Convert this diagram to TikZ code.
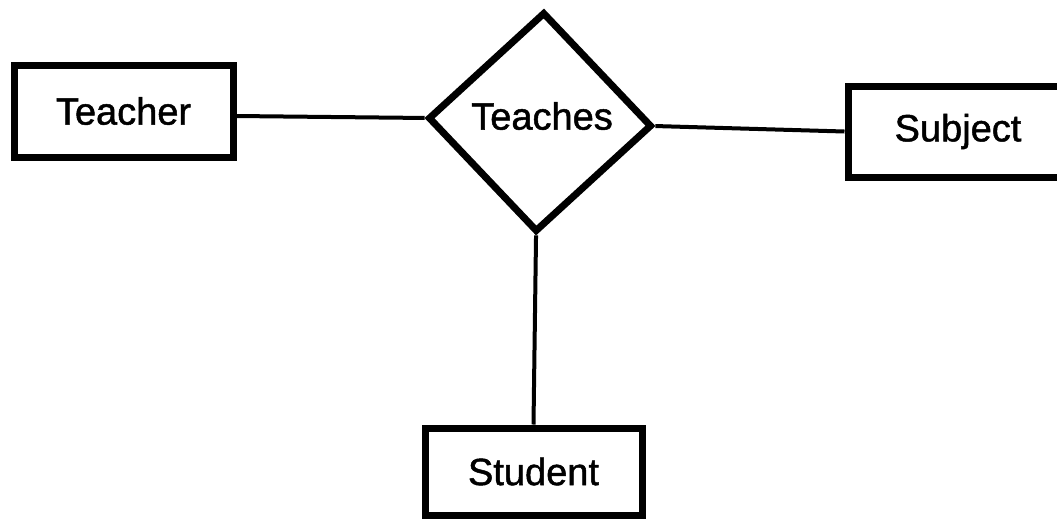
\documentclass[tikz,border=0pt]{standalone}
\usepackage{fontspec}
\setmainfont{Liberation Sans}
\newfontfamily\erfont[FakeBold=1.3]{Liberation Sans}
\usetikzlibrary{shapes.geometric}
\begin{document}
\begin{tikzpicture}[x=0.5pt,y=-0.5pt,
  entity/.style={draw=black,line width=3.5pt,rectangle,inner sep=0pt,
    font=\erfont\fontsize{19}{22}\selectfont},
  relation/.style={draw=black,line width=3.5pt,diamond,inner sep=0pt,
    minimum width=112pt,minimum height=110pt,rotate=-2},
  label/.style={font=\erfont\fontsize{19}{22}\selectfont,inner sep=0pt},
  link/.style={draw=black,line width=2pt}]
\useasboundingbox (0,0) rectangle (1057,527);
\clip (0,0) rectangle (1057,527);
\fill[white] (0,0) rectangle (1057,527);

% entities
\node[entity,minimum width=109.5pt,minimum height=46pt] (teacher) at (123.5,111) {Teacher};
\node[entity,minimum width=110pt,minimum height=45.5pt] (subject) at (958,131.5) {Subject};
\node[entity,minimum width=108.5pt,minimum height=43.5pt] (student) at (533.5,471.5) {Student};

% relationship
\node[relation] (rel) at (540,122) {};
\node[label] (reltext) at (542,116) {Teaches};

% connectors
\draw[link] ([yshift=-2.5pt]teacher.east) -- (rel.west);
\draw[link] (rel.east) -- (subject.west);
\draw[link] (rel.south) -- (student.north);
\end{tikzpicture}
\end{document}
